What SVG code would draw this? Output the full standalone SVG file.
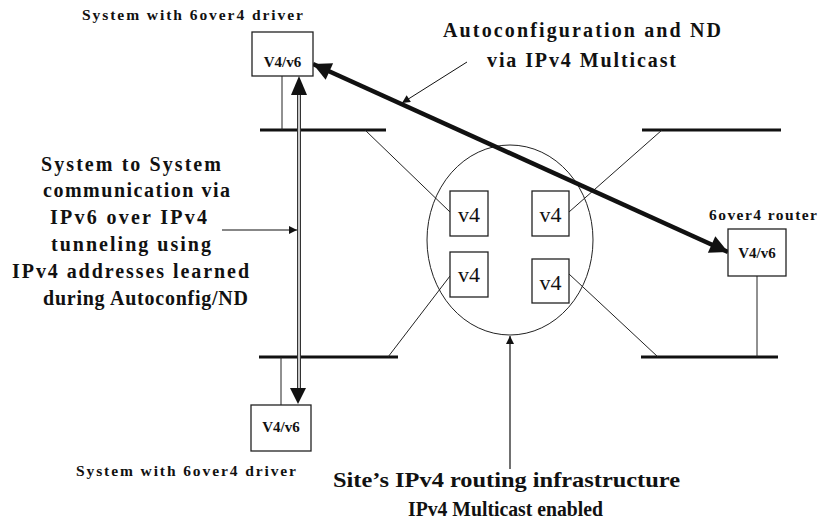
<svg xmlns="http://www.w3.org/2000/svg" width="822" height="521" viewBox="0 0 822 521">
<style>
.t{font-family:"Liberation Serif","Times New Roman",serif;font-weight:bold;fill:#111}
.big{font-size:20px}
.sm{font-size:15.5px}
.bx{font-size:15px;text-anchor:middle}
.v4{font-family:"Liberation Serif","Times New Roman",serif;font-size:22px;fill:#111;text-anchor:middle}
.box{fill:#fff;stroke:#222;stroke-width:1.3}
.bus{stroke:#111;stroke-width:3.2}
.thin{stroke:#222;stroke-width:1;fill:none}
</style>
<defs>
<marker id="ah" viewBox="0 0 10 10" refX="10" refY="5" markerWidth="5" markerHeight="4" orient="auto-start-reverse" markerUnits="strokeWidth"><path d="M0,0 L10,5 L0,10 z" fill="#111"/></marker>
<marker id="sa" viewBox="0 0 10 10" refX="10" refY="5" markerWidth="10" markerHeight="8" orient="auto" markerUnits="userSpaceOnUse"><path d="M0,0 L10,5 L0,10 z" fill="#111"/></marker>
</defs>
<rect width="822" height="521" fill="#fff"/>

<g id="buses">
<line class="bus" x1="260" y1="130" x2="386" y2="130"/>
<line class="bus" x1="642" y1="130" x2="781" y2="130"/>
<line class="bus" x1="259" y1="357" x2="398" y2="357"/>
<line class="bus" x1="641" y1="357" x2="778" y2="357"/>
</g>

<g id="infrastructure">
<ellipse cx="510" cy="240" rx="83" ry="95" class="thin"/>
</g>

<g id="connectors">
<line class="thin" x1="282" y1="76" x2="282" y2="130"/>
<line class="thin" x1="281" y1="357" x2="281" y2="405"/>
<line class="thin" x1="757" y1="276" x2="757" y2="357"/>
<line class="thin" x1="365" y1="130" x2="450" y2="212"/>
<line class="thin" x1="569" y1="212" x2="662" y2="130"/>
<line class="thin" x1="450" y1="276" x2="388" y2="357"/>
<line class="thin" x1="569" y1="274" x2="658" y2="357"/>
<!-- tunnel double line -->
<line x1="299" y1="94" x2="299" y2="389" stroke="#333" stroke-width="4"/>
<line x1="299" y1="94" x2="299" y2="389" stroke="#c8c8c8" stroke-width="2"/>
<path d="M299,76 L291,95 L307,95 z" fill="#111"/>
<path d="M298,404 L290,388 L306,388 z" fill="#111"/>
<!-- thick autoconfig arrow -->
<line x1="313" y1="64" x2="728" y2="252" stroke="#111" stroke-width="4.5" marker-start="url(#ah)" marker-end="url(#ah)"/>
<!-- leaders -->
<line x1="467" y1="62" x2="402" y2="103" stroke="#111" stroke-width="1" marker-end="url(#sa)"/>
<line x1="222" y1="230" x2="297" y2="230" stroke="#111" stroke-width="1.2" marker-end="url(#sa)"/>
<line x1="510" y1="469" x2="510" y2="336" stroke="#111" stroke-width="1.2" marker-end="url(#sa)"/>
</g>

<g id="host-top">
<rect class="box" x="252" y="32" width="61" height="44"/>
<text class="t bx" x="282.5" y="67">V4/v6</text>
<text class="t sm" x="82" y="20" textLength="221" lengthAdjust="spacing">System with 6over4 driver</text>
</g>

<g id="host-bottom">
<rect class="box" x="251" y="405" width="60" height="46"/>
<text class="t bx" x="281" y="432">V4/v6</text>
<text class="t sm" x="76" y="476" textLength="220" lengthAdjust="spacing">System with 6over4 driver</text>
</g>

<g id="router">
<rect class="box" x="728" y="229" width="58" height="47"/>
<text class="t bx" x="757" y="258">V4/v6</text>
<text class="t sm" x="709" y="220" textLength="108" lengthAdjust="spacing">6over4 router</text>
</g>

<g id="v4-tl"><rect class="box" x="450" y="191" width="38" height="45"/><text class="v4" x="469" y="222">v4</text></g>
<g id="v4-tr"><rect class="box" x="532" y="191" width="37" height="45"/><text class="v4" x="550.5" y="222">v4</text></g>
<g id="v4-bl"><rect class="box" x="450" y="252" width="38" height="45"/><text class="v4" x="469" y="282">v4</text></g>
<g id="v4-br"><rect class="box" x="532" y="259" width="37" height="44"/><text class="v4" x="550.5" y="290">v4</text></g>

<g id="label-autoconfig">
<text class="t big" x="443" y="37" textLength="278" lengthAdjust="spacing">Autoconfiguration and ND</text>
<text class="t big" x="487" y="67" textLength="189" lengthAdjust="spacing">via IPv4 Multicast</text>
</g>

<g id="label-tunnel">
<text class="t big" x="41" y="171" textLength="180" lengthAdjust="spacing">System to System</text>
<text class="t big" x="43" y="197" textLength="187" lengthAdjust="spacing">communication via</text>
<text class="t big" x="50" y="224" textLength="157" lengthAdjust="spacing">IPv6 over IPv4</text>
<text class="t big" x="51" y="251" textLength="160" lengthAdjust="spacing">tunneling using</text>
<text class="t big" x="12" y="278" textLength="237" lengthAdjust="spacing">IPv4 addresses learned</text>
<text class="t big" x="43" y="305" textLength="205" lengthAdjust="spacing">during Autoconfig/ND</text>
</g>

<g id="label-site">
<text class="t" font-size="22" x="333" y="487" textLength="347" lengthAdjust="spacingAndGlyphs">Site’s IPv4 routing infrastructure</text>
<text class="t" font-size="22" x="408" y="516" textLength="195" lengthAdjust="spacingAndGlyphs">IPv4 Multicast enabled</text>
</g>
</svg>
